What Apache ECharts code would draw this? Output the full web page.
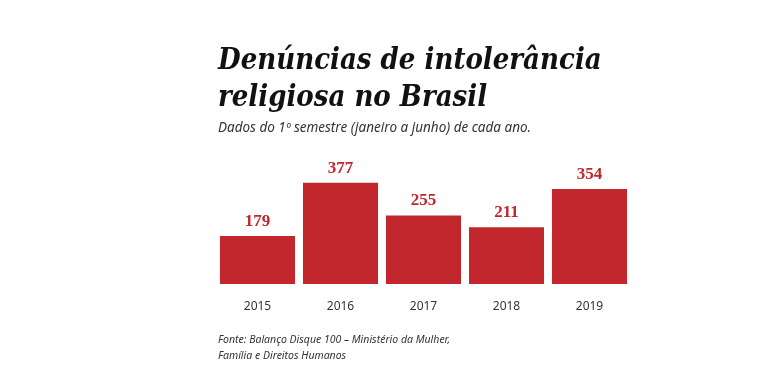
<!DOCTYPE html>
<html><head><meta charset="utf-8">
<script src="https://cdn.jsdelivr.net/npm/echarts@6/dist/echarts.min.js"></script>
<style>html,body{margin:0;padding:0;background:#fff}#c{width:759px;height:389px}</style>
</head><body><div id="c"></div>
<script>
const categories = ['2015','2016','2017','2018','2019'];
const values = [179, 377, 255, 211, 354];
const titleLines = ['Denúncias de intolerância', 'religiosa no Brasil'];
const subtitle = 'Dados do 1º semestre (janeiro a junho) de cada ano.';
const sourceLines = ['Fonte: Balanço Disque 100 – Ministério da Mulher,', 'Família e Direitos Humanos'];

const chart = echarts.init(document.getElementById('c'));
chart.setOption({
  backgroundColor: '#ffffff',
  animation: false,
  title: [
    { text: titleLines.join('\n'), left: 213, top: 38,
      textStyle: { fontFamily: '"DejaVu Serif Condensed", "DejaVu Serif"', fontStyle: 'italic', fontWeight: 'bold', fontSize: 29, lineHeight: 37, color: '#111' } },
    { text: subtitle, left: 213, top: 116,
      textStyle: { fontFamily: 'Noto Sans', fontStyle: 'italic', fontWeight: 'normal', fontSize: 13.5, color: '#333' } },
    { text: sourceLines.join('\n'), left: 213, top: 327,
      textStyle: { fontFamily: 'Noto Sans', fontStyle: 'italic', fontWeight: 'normal', fontSize: 10.5, lineHeight: 16, color: '#333' } }
  ],
  grid: { left: 216, right: 128, top: 176, bottom: 105, containLabel: false },
  xAxis: {
    type: 'category', data: categories,
    axisLine: { show: false }, axisTick: { show: false },
    axisLabel: { color: '#333', fontFamily: 'Noto Sans', fontSize: 12, margin: 17 }
  },
  yAxis: { type: 'value', min: 0, max: 402, show: false, splitLine: { show: false } },
  series: [{
    type: 'bar', data: values, barCategoryGap: '9.6%',
    itemStyle: { color: '#c1272d' },
    label: { show: true, position: 'top', distance: 6, color: '#c1272d',
      fontFamily: 'Liberation Serif', fontWeight: 'bold', fontSize: 17 }
  }]
});
</script></body></html>
